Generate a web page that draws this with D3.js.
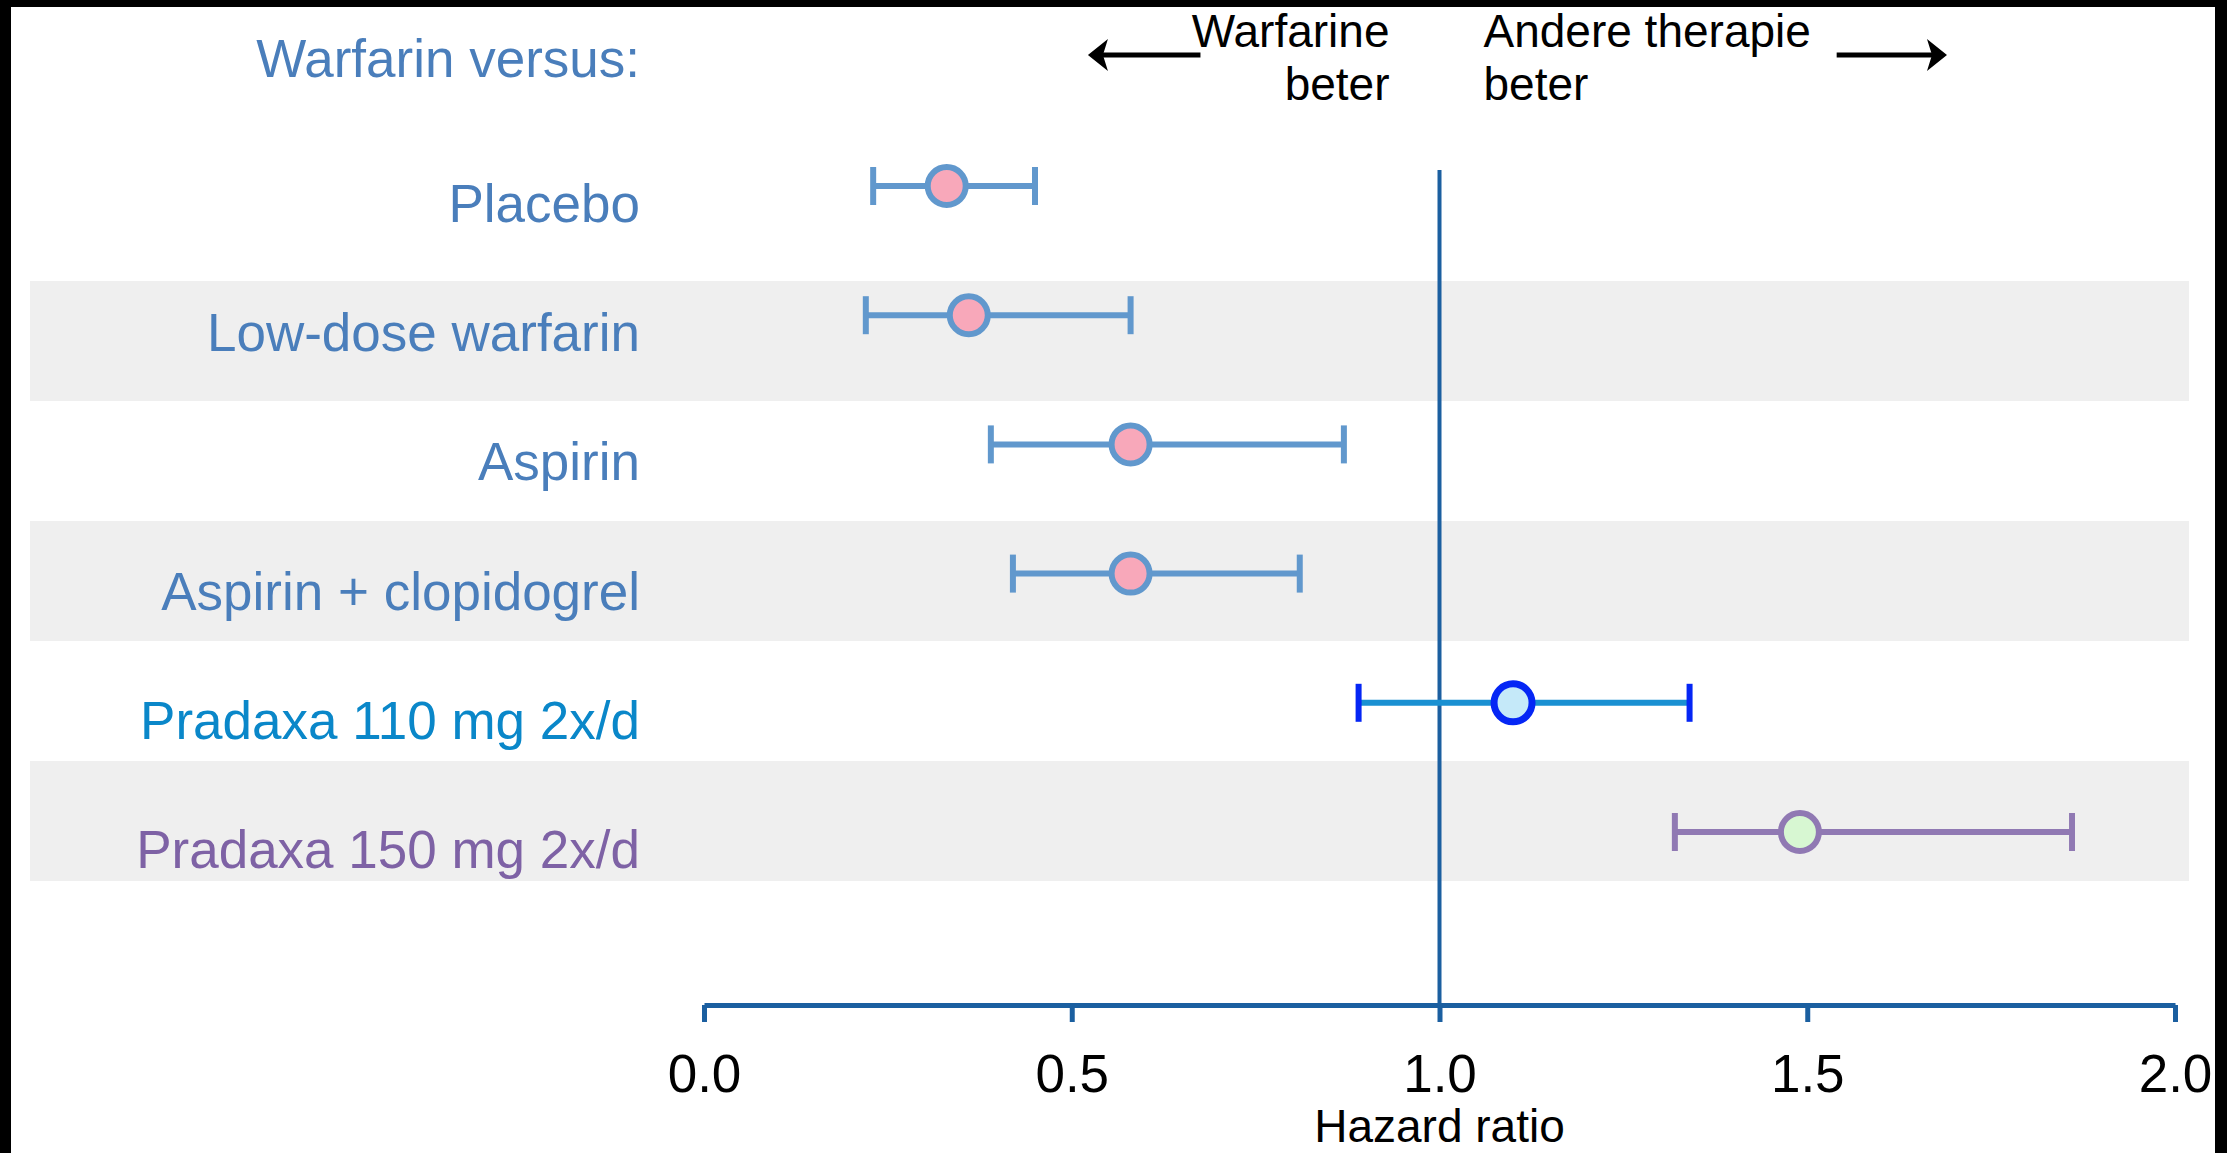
<!DOCTYPE html>
<html>
<head>
<meta charset="utf-8">
<script src="https://cdn.jsdelivr.net/npm/d3@7"></script>
<style>
  body { margin: 0; background: #000; }
  svg { display: block; }
  text { font-family: "Liberation Sans", Arial, Helvetica, sans-serif; }
</style>
</head>
<body>
<svg id="chart" width="2227" height="1153"></svg>
<script>
// hazard ratios (warfarin versus ...)
const categories = ["Placebo", "Low-dose warfarin", "Aspirin", "Aspirin + clopidogrel", "Pradaxa 110 mg 2x/d", "Pradaxa 150 mg 2x/d"];
const hazard = [0.33, 0.36, 0.58, 0.58, 1.10, 1.49];
const lower  = [0.23, 0.22, 0.39, 0.42, 0.89, 1.32];
const upper  = [0.45, 0.58, 0.87, 0.81, 1.34, 1.86];
const tickValues = [0, 0.5, 1, 1.5, 2];

// colours per row: label, line, cap, circle stroke, circle fill
const rowStyles = [
    {label: "#4a7ebb", line: "#6198cd", cap: "#6198cd", stroke: "#6198cd", fill: "#f8a8ba", r: 19, sw: 6},
    {label: "#4a7ebb", line: "#6198cd", cap: "#6198cd", stroke: "#6198cd", fill: "#f8a8ba", r: 19, sw: 6},
    {label: "#4a7ebb", line: "#6198cd", cap: "#6198cd", stroke: "#6198cd", fill: "#f8a8ba", r: 19, sw: 6},
    {label: "#4a7ebb", line: "#6198cd", cap: "#6198cd", stroke: "#6198cd", fill: "#f8a8ba", r: 19, sw: 6},
    {label: "#0a87c9", line: "#1a90d2", cap: "#0526f5", stroke: "#0526f5", fill: "#c5e9f9", r: 19, sw: 7},
    {label: "#7e62a5", line: "#9079b3", cap: "#9079b3", stroke: "#9079b3", fill: "#d7f7d2", r: 19, sw: 6}
];

const rows = categories.map((c, i) => ({
    name: c, hr: hazard[i], lo: lower[i], hi: upper[i], style: rowStyles[i], idx: i
}));

const svg = d3.select('#chart');

// frame: black border like the screenshot
svg.append('rect').attr('x', 11).attr('y', 7).attr('width', 2204).attr('height', 1146).attr('fill', '#fff');

const x = d3.scaleLinear().domain([0, 2]).range([704, 2175]);
// row bands (for the grey stripes)
const band = d3.scaleBand().domain(categories).range([161, 881]);
// marker rows
const yPos = d3.scalePoint().domain(categories).range([186, 832]);

// grey stripes on every second row
svg.append('g')
    .selectAll('rect')
    .data(rows.filter(d => d.idx % 2 === 1))
    .join('rect')
    .attr('x', 30)
    .attr('width', 2159)
    .attr('y', d => band(d.name))
    .attr('height', band.bandwidth())
    .attr('fill', '#efefef');

// reference line at HR = 1
svg.append('line')
    .attr('x1', x(1)).attr('x2', x(1))
    .attr('y1', 170).attr('y2', 1005)
    .attr('stroke', '#1b5fa0')
    .attr('stroke-width', 4);

// x axis
const axis = svg.append('g')
    .attr('transform', 'translate(0,1005)')
    .call(d3.axisBottom(x)
        .tickValues(tickValues)
        .tickFormat(d3.format('.1f'))
        .tickSize(17)
        .tickSizeOuter(0)
        .tickPadding(32));
axis.select('.domain').attr('stroke', '#1b5fa0').attr('stroke-width', 5);
axis.selectAll('.tick line').attr('stroke', '#1b5fa0').attr('stroke-width', 5);
axis.selectAll('.tick text')
    .attr('fill', '#000')
    .style('font-size', '53px')
    .style('font-family', '"Liberation Sans", Arial, sans-serif');

svg.append('text')
    .attr('x', x(1))
    .attr('y', 1142)
    .attr('text-anchor', 'middle')
    .style('font-size', '46px')
    .attr('fill', '#000')
    .text('Hazard ratio');

// row labels
svg.append('text')
    .attr('x', 640).attr('y', 77)
    .attr('text-anchor', 'end')
    .style('font-size', '53px')
    .attr('fill', '#4a7ebb')
    .text('Warfarin versus:');

svg.append('g')
    .selectAll('text')
    .data(rows)
    .join('text')
    .attr('x', 640)
    .attr('y', d => yPos(d.name) + 36)
    .attr('text-anchor', 'end')
    .style('font-size', '53px')
    .attr('fill', d => d.style.label)
    .text(d => d.name);

// error bars
const bars = svg.append('g')
    .selectAll('g')
    .data(rows)
    .join('g')
    .attr('transform', d => `translate(0,${yPos(d.name)})`);

bars.append('line')
    .attr('x1', d => x(d.lo)).attr('x2', d => x(d.hi))
    .attr('stroke', d => d.style.line)
    .attr('stroke-width', 6);

bars.selectAll('line.cap')
    .data(d => [{v: d.lo, s: d.style}, {v: d.hi, s: d.style}])
    .join('line')
    .attr('class', 'cap')
    .attr('x1', d => x(d.v)).attr('x2', d => x(d.v))
    .attr('y1', -19).attr('y2', 19)
    .attr('stroke', d => d.s.cap)
    .attr('stroke-width', 6);

bars.append('circle')
    .attr('cx', d => x(d.hr))
    .attr('r', d => d.style.r)
    .attr('fill', d => d.style.fill)
    .attr('stroke', d => d.style.stroke)
    .attr('stroke-width', d => d.style.sw);

// header annotations
const head = svg.append('g').style('font-size', '46px').attr('fill', '#000');
head.append('text').attr('x', x(1) - 50).attr('y', 47).attr('text-anchor', 'end').text('Warfarine');
head.append('text').attr('x', x(1) - 50).attr('y', 100).attr('text-anchor', 'end').text('beter');
head.append('text').attr('x', x(1) + 44).attr('y', 47).attr('text-anchor', 'start').text('Andere therapie');
head.append('text').attr('x', x(1) + 44).attr('y', 100).attr('text-anchor', 'start').text('beter');

function arrow(from, to, y) {
    const dir = Math.sign(to - from);
    const g = svg.append('g');
    g.append('line')
        .attr('x1', from).attr('x2', to - dir * 10)
        .attr('y1', y).attr('y2', y)
        .attr('stroke', '#000').attr('stroke-width', 5);
    g.append('path')
        .attr('d', `M${to},${y} L${to - dir * 20},${y - 16} L${to - dir * 15},${y} L${to - dir * 20},${y + 16} Z`)
        .attr('fill', '#000');
}
arrow(x(0.675), x(0.522), 55);
arrow(x(1.54), x(1.69), 55);
</script>
</body>
</html>
